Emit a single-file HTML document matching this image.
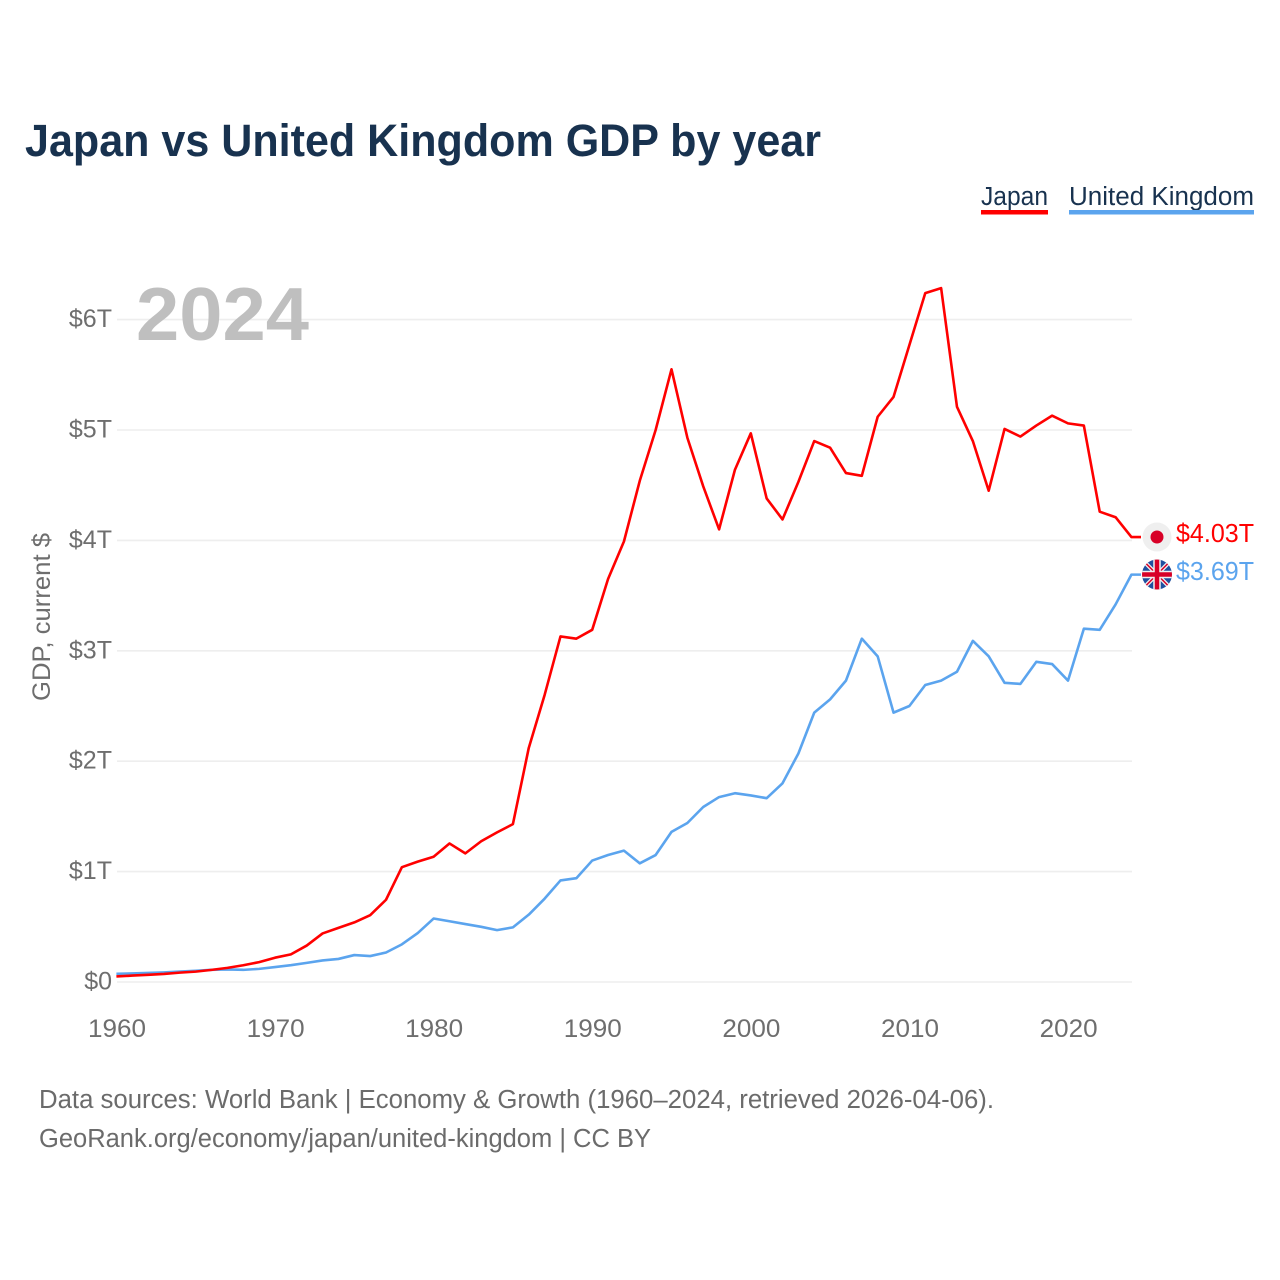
<!DOCTYPE html>
<html lang="en">
<head>
<meta charset="utf-8">
<title>Japan vs United Kingdom GDP by year</title>
<style>
html,body{margin:0;padding:0;background:#fff;width:1280px;height:1280px;overflow:hidden}
svg{display:block}
text{font-family:"Liberation Sans",sans-serif}
.tick{font-size:25px;fill:#6e6e6e}
.foot{font-size:25.5px;fill:#6b6b6b}
.leg{font-size:25.5px;fill:#18324f}
</style>
</head>
<body>
<svg id="chart" xmlns="http://www.w3.org/2000/svg" width="1280" height="1280" viewBox="0 0 1280 1280">
  <rect x="0" y="0" width="1280" height="1280" fill="#fff"/>
  <text x="25" y="156" font-size="45" font-weight="700" fill="#18324f" textLength="796" lengthAdjust="spacingAndGlyphs">Japan vs United Kingdom GDP by year</text>

  <g>
    <text class="leg" x="981" y="205" textLength="67" lengthAdjust="spacingAndGlyphs">Japan</text>
    <rect x="981" y="210" width="67" height="4.5" fill="#ff0000"/>
  </g>
  <g>
    <text class="leg" x="1069" y="205" textLength="185" lengthAdjust="spacingAndGlyphs">United Kingdom</text>
    <rect x="1069" y="210" width="185" height="4.5" fill="#5ba4ee"/>
  </g>

  <g id="grid"></g>
  <g id="yticks"></g>
  <g id="xticks"></g>

  <text x="136" y="340" font-size="75" font-weight="700" fill="#bfbfbf" textLength="173" lengthAdjust="spacingAndGlyphs">2024</text>
  <text transform="translate(50 617) rotate(-90)" text-anchor="middle" font-size="25" fill="#6e6e6e" textLength="168" lengthAdjust="spacingAndGlyphs">GDP, current $</text>

  <g id="series"></g>

  <g id="end-japan">
    <circle cx="1157" cy="537" r="14.5" fill="#efefef"/>
    <circle cx="1157" cy="537" r="6.5" fill="#d80027"/>
    <text id="label-japan" x="1176" y="542" font-size="26" fill="#ff0000" textLength="78" lengthAdjust="spacingAndGlyphs">$4.03T</text>
  </g>
  <g id="end-uk">
    <defs><clipPath id="uk-clip"><circle cx="1157" cy="574.5" r="15"/></clipPath></defs>
    <g clip-path="url(#uk-clip)">
      <rect x="1142" y="559.5" width="30" height="30" fill="#1f4f9f"/>
      <path d="M1142 559.5L1172 589.5M1172 559.5L1142 589.5" stroke="#f0f0f0" stroke-width="4"/>
      <path d="M1142 559.5L1172 589.5M1172 559.5L1142 589.5" stroke="#d80027" stroke-width="1.5"/>
      <path d="M1157 559.5V589.5M1142 574.5H1172" stroke="#f0f0f0" stroke-width="7.5"/>
      <path d="M1157 559.5V589.5M1142 574.5H1172" stroke="#d80027" stroke-width="4.5"/>
    </g>
    <text id="label-uk" x="1176" y="580" font-size="26" fill="#5ba4ee" textLength="78" lengthAdjust="spacingAndGlyphs">$3.69T</text>
  </g>

  <text class="foot" x="39" y="1108" textLength="955" lengthAdjust="spacingAndGlyphs">Data sources: World Bank | Economy &amp; Growth (1960–2024, retrieved 2026-04-06).</text>
  <text class="foot" x="39" y="1147" textLength="612" lengthAdjust="spacingAndGlyphs">GeoRank.org/economy/japan/united-kingdom | CC BY</text>
</svg>
<script>
const startYear = 1960;
const xTickYears = [1960, 1970, 1980, 1990, 2000, 2010, 2020];
const yTickValues = [0, 1, 2, 3, 4, 5, 6];
const yTickLabels = ["$0", "$1T", "$2T", "$3T", "$4T", "$5T", "$6T"];
const japanValues = [0.050,0.058,0.065,0.073,0.085,0.094,0.110,0.128,0.152,0.180,0.22,0.25,0.33,0.44,0.49,0.54,0.605,0.745,1.04,1.09,1.135,1.255,1.165,1.275,1.355,1.43,2.12,2.60,3.13,3.11,3.19,3.65,3.99,4.54,5.00,5.55,4.93,4.49,4.10,4.64,4.97,4.38,4.19,4.53,4.90,4.84,4.61,4.585,5.12,5.30,5.77,6.24,6.285,5.21,4.90,4.45,5.01,4.94,5.04,5.13,5.06,5.04,4.26,4.21,4.03];
const ukValues = [0.074,0.078,0.082,0.087,0.095,0.102,0.110,0.114,0.110,0.119,0.135,0.152,0.173,0.195,0.209,0.244,0.235,0.267,0.341,0.443,0.575,0.550,0.525,0.500,0.470,0.495,0.610,0.755,0.920,0.940,1.10,1.15,1.19,1.075,1.15,1.36,1.44,1.585,1.675,1.71,1.69,1.665,1.80,2.07,2.44,2.56,2.73,3.11,2.95,2.44,2.50,2.69,2.73,2.81,3.09,2.95,2.71,2.70,2.90,2.88,2.73,3.20,3.19,3.42,3.69];

const NS = "http://www.w3.org/2000/svg";
const xScale = year => 116.4 + (year - 1960) * 15.86;
const yScale = value => 982 - value * 110.4;
const make = (tag, parent) => { const el = document.createElementNS(NS, tag); parent.appendChild(el); return el; };

const grid = document.getElementById("grid");
const yticks = document.getElementById("yticks");
yTickValues.forEach((v, i) => {
  const line = make("line", grid);
  
  
  line.setAttribute("x1", 117);
  line.setAttribute("x2", 1132);
  line.setAttribute("y1", yScale(v));
  line.setAttribute("y2", yScale(v));
  line.setAttribute("stroke", "#eeeeee");
  line.setAttribute("stroke-width", 1.6);
  const t = make("text", yticks);
  
  
  t.setAttribute("class", "tick");
  t.setAttribute("x", 112);
  t.setAttribute("y", yScale(v) + 7.5);
  t.setAttribute("text-anchor", "end");
  t.textContent = yTickLabels[i];
});

const xticks = document.getElementById("xticks");
xTickYears.forEach(year => {
  const t = make("text", xticks);
  
  
  t.setAttribute("class", "tick");
  t.setAttribute("x", xScale(year) + 0.6);
  t.setAttribute("y", 1037);
  t.setAttribute("text-anchor", "middle");
  t.setAttribute("textLength", 58);
  t.setAttribute("lengthAdjust", "spacingAndGlyphs");
  t.textContent = year;
});

const seriesGroup = document.getElementById("series");
function drawSeries(values, color, name) {
  const pts = values.map((v, i) => xScale(startYear + i).toFixed(2) + "," + yScale(v).toFixed(2));
  const last = values[values.length - 1];
  pts.push("1141," + yScale(last).toFixed(2));
  const line = make("polyline", seriesGroup);
  
  
  line.setAttribute("points", pts.join(" "));
  line.setAttribute("fill", "none");
  line.setAttribute("stroke", color);
  line.setAttribute("stroke-width", 2.6);
  line.setAttribute("stroke-linejoin", "round");
}
drawSeries(ukValues, "#5ba4ee", "series-line-united-kingdom");
drawSeries(japanValues, "#ff0000", "series-line-japan");
</script>
</body>
</html>
